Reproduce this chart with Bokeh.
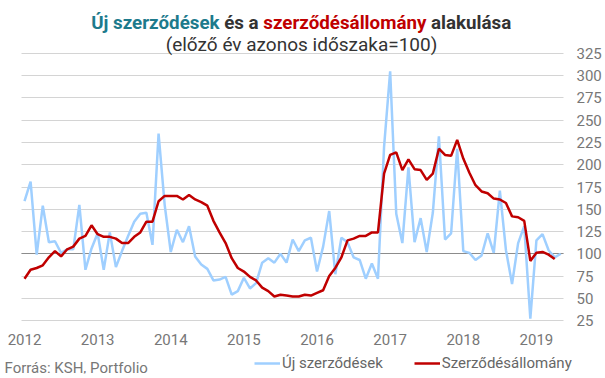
import subprocess
from bokeh.plotting import figure
from bokeh.models import (Range1d, FixedTicker, Grid, Label, Legend, LegendItem)
from bokeh.embed import file_html
from bokeh.resources import INLINE

# Monthly index, Jan 2012 - May 2019 (previous year's same period = 100)
new_contracts = [159, 181, 99, 154, 113, 114, 101, 105, 105, 155, 82, 106, 123, 82, 124, 85, 103, 120, 136, 145, 146, 110,
                 235, 155, 102, 127, 113, 131, 97, 88, 83, 70, 71, 74, 54, 58, 73, 61, 67, 90, 95, 90, 100, 90,
                 116, 103, 115, 118, 80, 108, 148, 77, 118, 113, 96, 93, 72, 89, 72, 220, 305, 145, 112, 197, 113, 140,
                 102, 146, 232, 116, 123, 218, 103, 101, 93, 98, 123, 101, 171, 104, 66, 112, 131, 27, 115, 122, 104, 96, 100]
portfolio = [72, 82, 84, 87, 96, 103, 97, 105, 108, 117, 120, 132, 122, 119, 119, 117, 112, 112, 119, 124, 136, 136,
             159, 165, 165, 165, 161, 166, 161, 158, 154, 137, 124, 112, 95, 84, 80, 74, 70, 62, 58, 52, 54, 53,
             52, 52, 54, 53, 56, 59, 75, 84, 96, 115, 117, 120, 120, 124, 124, 190, 211, 214, 194, 206, 195, 194,
             183, 190, 218, 211, 210, 228, 207, 191, 177, 170, 168, 162, 161, 157, 142, 141, 137, 92, 101, 102, 99, 94]
year_labels = ["2012", "2013", "2014", "2015", "2016", "2017", "2018", "2019"]
year_ticks = [12 * i for i in range(len(year_labels))]   # January of each year
y_ticks = [25, 50, 75, 100, 125, 150, 175, 200, 225, 250, 275, 300, 325]
base_level = [100]
title_words = ["Új szerződések", "és a", "szerződésállomány", "alakulása"]

x_new = list(range(len(new_contracts)))
x_port = list(range(len(portfolio)))

FONT = "Roboto"
BLUE = "#9fcfff"
RED = "#c00000"
TEAL = "#1d7a8c"
DARK = "#333333"
title_colors = [TEAL, DARK, RED, DARK]

W, H = 605, 378
FB = 373          # frame bottom (px from top)
FR = 575          # frame right (px from left); right panel holds the y axis


def text_width_fn(bold):
    """Return f(text, size_px) -> width using the installed Roboto font, or None."""
    try:
        from PIL import ImageFont
        pattern = "Roboto:bold" if bold else "Roboto"
        path = subprocess.run(["fc-match", "-f", "%{file}", pattern],
                              capture_output=True, text=True, timeout=10).stdout.strip()
        fnt = ImageFont.truetype(path, 200)
        if bold:
            try:
                names = fnt.get_variation_names()
                if b"Bold" in names:
                    fnt.set_variation_by_name("Bold")
            except Exception:
                pass
        return lambda s, size: fnt.getlength(s) * size / 200.0
    except Exception:
        return None


p = figure(width=W, height=H, output_backend="svg", toolbar_location=None,
           x_range=Range1d(-24 / 6.0943, (FR - 24) / 6.0943), y_range=Range1d(-34.55, 384.55),
           y_axis_location="right",
           min_border_left=0, min_border_right=W - FR, min_border_top=0, min_border_bottom=H - FB)
p.outline_line_color = None
p.background_fill_color = "white"
p.border_fill_color = "white"

# ---------- axes ----------
p.xaxis.ticker = FixedTicker(ticks=year_ticks)
p.xaxis.major_label_overrides = {tk: lb for tk, lb in zip(year_ticks, year_labels)}
p.xaxis.fixed_location = -7.0
p.yaxis.ticker = FixedTicker(ticks=y_ticks)
for ax in (p.xaxis[0], p.yaxis[0]):
    ax.axis_line_color = None
    ax.major_tick_line_color = None
    ax.minor_tick_line_color = None
    ax.major_tick_out = 0
    ax.major_tick_in = 0
    ax.major_label_text_font = FONT
    ax.major_label_text_font_size = "15px"
    ax.major_label_text_color = "#777777"
p.xaxis.major_label_standoff = -15
p.yaxis.major_label_standoff = 1

# ---------- grid (limited to the data area) ----------
p.xgrid.visible = False
p.ygrid.visible = False
bounds = (-0.49, 88.44)
g_kw = {}
if "cross_bounds" in Grid.properties():
    g_kw["cross_bounds"] = bounds
p.add_layout(Grid(dimension=1, ticker=FixedTicker(ticks=y_ticks), grid_line_color="#d4d4d4",
                  grid_line_width=1, **g_kw))
p.add_layout(Grid(dimension=1, ticker=FixedTicker(ticks=base_level), grid_line_color="#8c8c8c",
                  grid_line_width=1, **g_kw))

# ---------- series ----------
r_new = p.line(x_new, new_contracts, line_color=BLUE, line_width=2.5)
r_port = p.line(x_port, portfolio, line_color=RED, line_width=2.5)

# ---------- title (mixed colours, one centred line) ----------
t_center, t_width = 300.7, 420.0
full = " ".join(title_words)
tw = text_width_fn(bold=True)
if tw is not None and tw(full, 18) > 0:
    size = max(16.0, min(20.0, 18 * t_width / tw(full, 18)))
    x0 = t_center - tw(full, size) / 2
    starts = []
    for i in range(len(title_words)):
        prefix = " ".join(title_words[:i]) + (" " if i else "")
        starts.append(x0 + (tw(prefix, size) if i else 0))
else:
    size = 17.5
    starts = [90.7, 224, 250.7, 430]
for txt, col, xx in zip(title_words, title_colors, starts):
    p.add_layout(Label(x=xx, y=FB - 22.5, x_units="screen", y_units="screen", text=txt,
                       text_font=FONT, text_font_style="bold", text_font_size=f"{size:.2f}px",
                       text_color=col, text_align="left", text_baseline="alphabetic"))
p.add_layout(Label(x=301, y=FB - 44, x_units="screen", y_units="screen",
                   text="(előző év azonos időszaka=100)", text_font=FONT,
                   text_font_size="19px", text_color=DARK, text_align="center",
                   text_baseline="alphabetic"))

# ---------- source + legend ----------
p.add_layout(Label(x=4, y=FB - 367.5, x_units="screen", y_units="screen",
                   text="Forrás: KSH, Portfolio", text_font=FONT, text_font_size="15px",
                   text_color="#777777", text_align="left", text_baseline="alphabetic"))
legend = Legend(items=[LegendItem(label="Új szerződések", renderers=[r_new]),
                       LegendItem(label="Szerződésállomány", renderers=[r_port])],
                location=(254, 1), orientation="horizontal",
                border_line_color=None, background_fill_alpha=0,
                label_text_font=FONT, label_text_font_size="15px", label_text_color="#666666",
                glyph_width=26, glyph_height=18, label_height=18, label_standoff=2, spacing=31,
                padding=0, margin=0)
p.add_layout(legend, "center")

open("out.html", "w").write(file_html(p, INLINE))
